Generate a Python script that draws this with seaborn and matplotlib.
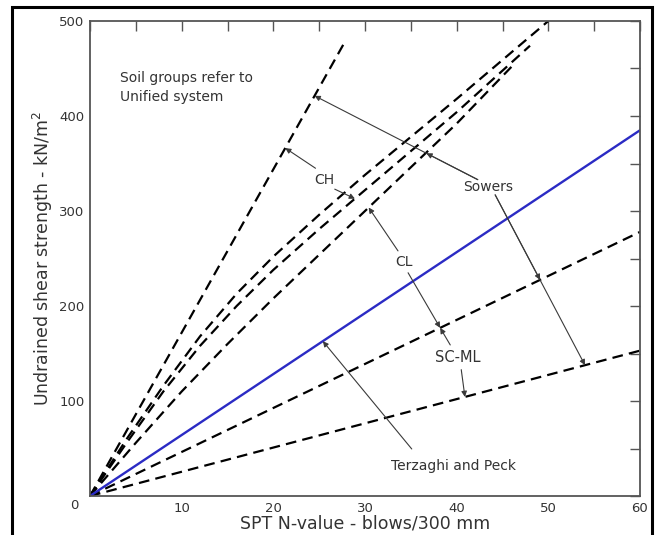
import numpy as np
import pandas as pd
import matplotlib
matplotlib.use("Agg")
import matplotlib.pyplot as plt
import matplotlib.transforms as mtransforms
import seaborn as sns
from matplotlib.patches import Rectangle


# Data

ch_hi_n = [0, 27.8]
ch_hi_su = [0, 478]

upper_n = [0, 4, 8, 12, 16, 20, 25, 30, 40, 50]
upper_su = [0, 60, 116, 168, 213, 252, 296, 338, 418, 500]

mid_n = [0, 4, 8, 12, 16, 20, 25, 30, 40, 48]
mid_su = [0, 56, 110, 158, 200, 238, 281, 322, 404, 474]

lower_n = [0, 5, 10, 15, 20, 25, 30, 40, 46]
lower_su = [0, 56, 110, 160, 208, 254, 300, 392, 452]

scml_hi_n = [0, 60]
scml_hi_su = [0, 278]

scml_lo_n = [0, 60]
scml_lo_su = [0, 153]

tp_n = [0, 60]
tp_su = [0, 385]

x_ticks = np.arange(0, 61, 5)
x_labels = [str(v) if v % 10 == 0 and v > 0 else "" for v in x_ticks]
y_ticks = np.arange(0, 501, 50)
y_labels = [str(v) if v % 100 == 0 else "" for v in y_ticks]

TXT = "#333333"
DASH = (0, (4.8, 2.8))


def on(n_arr, su_arr, n):
    return (n, float(np.interp(n, n_arr, su_arr)))


def arrow(ax, start, end):
    ax.annotate("", xy=end, xytext=start,
                arrowprops=dict(arrowstyle="-|>", color="#3a3a3a", lw=0.8,
                                mutation_scale=8, shrinkA=0, shrinkB=0))


sns.set_theme(style="white")
plt.rcParams["font.family"] = ["DejaVu Sans"]

fig = plt.figure(figsize=(6.57, 5.35), dpi=100)
ax = fig.add_axes([90 / 657, 1 - 496 / 535, 550 / 657, 475 / 535])

# dashed Sowers lines
for n, su in [(ch_hi_n, ch_hi_su), (upper_n, upper_su), (mid_n, mid_su),
              (lower_n, lower_su), (scml_hi_n, scml_hi_su), (scml_lo_n, scml_lo_su)]:
    sns.lineplot(x=n, y=su, ax=ax, color="black", lw=1.6, linestyle=DASH)

# Terzaghi and Peck
sns.lineplot(x=tp_n, y=tp_su, ax=ax, color="#2b2bc4", lw=1.7)

ax.set_xlim(0, 60)
ax.set_ylim(0, 500)
ax.set_xticks(x_ticks)
ax.set_xticklabels(x_labels)
ax.set_yticks(y_ticks)
ax.set_yticklabels(y_labels)
ax.tick_params(direction="in", length=7, width=1, color="#555555",
               top=True, right=True, labelsize=9.5, labelcolor=TXT, pad=4)
for s in ax.spines.values():
    s.set_color("#555555")
    s.set_linewidth(1.3)

# single "0" at the corner, sitting a bit lower like the original
zero = ax.get_yticklabels()[0]
zero.set_transform(zero.get_transform() +
                   mtransforms.ScaledTranslation(-6 / 100, -8 / 100, fig.dpi_scale_trans))

ax.set_xlabel("SPT N-value - blows/300 mm", fontsize=12.5, color=TXT, labelpad=0)
ax.set_ylabel("Undrained shear strength - kN/m$^2$", fontsize=12.5, color=TXT, labelpad=3)

# annotations
ax.text(3.3, 430, "Soil groups refer to\nUnified system", fontsize=10, color=TXT,
        va="center", ha="left", linespacing=1.45)

ax.text(25.6, 333, "CH", fontsize=10, color=TXT, ha="center", va="center")
arrow(ax, (24.6, 345), on(ch_hi_n, ch_hi_su, 21.3))
arrow(ax, (26.7, 323), on(mid_n, mid_su, 28.9))

ax.text(34.2, 246, "CL", fontsize=10, color=TXT, ha="center", va="center")
arrow(ax, (33.6, 258), on(lower_n, lower_su, 30.4))
arrow(ax, (34.7, 235), on(scml_hi_n, scml_hi_su, 38.2))

ax.text(40.1, 146, "SC-ML", fontsize=10.5, color=TXT, ha="center", va="center")
arrow(ax, (39.3, 159), on(scml_hi_n, scml_hi_su, 38.2))
arrow(ax, (40.5, 133), on(scml_lo_n, scml_lo_su, 40.9))

ax.text(43.4, 325, "Sowers", fontsize=10, color=TXT, ha="center", va="center")
s_up = (42.3, 333)
ch_pt = on(ch_hi_n, ch_hi_su, 24.5)
mid_pt = (36.7, s_up[1] + (s_up[0] - 36.7) / (s_up[0] - ch_pt[0]) * (ch_pt[1] - s_up[1]))
arrow(ax, s_up, ch_pt)
arrow(ax, s_up, mid_pt)
s_dn = (44.2, 317)
arrow(ax, s_dn, on(scml_hi_n, scml_hi_su, 49.1))
arrow(ax, s_dn, on(scml_lo_n, scml_lo_su, 54.0))

ax.text(39.7, 31.6, "Terzaghi and Peck", fontsize=10, color=TXT, ha="center", va="center")
arrow(ax, (35.1, 49.5), on(tp_n, tp_su, 25.4))

# outer frame
fig.patches.append(Rectangle((12 / 657, -0.02), 640 / 657, 1.0 - 7 / 535 + 0.02,
                             transform=fig.transFigure, fill=False,
                             edgecolor="black", lw=2.2, clip_on=False))

fig.savefig("out.png", dpi=100)
